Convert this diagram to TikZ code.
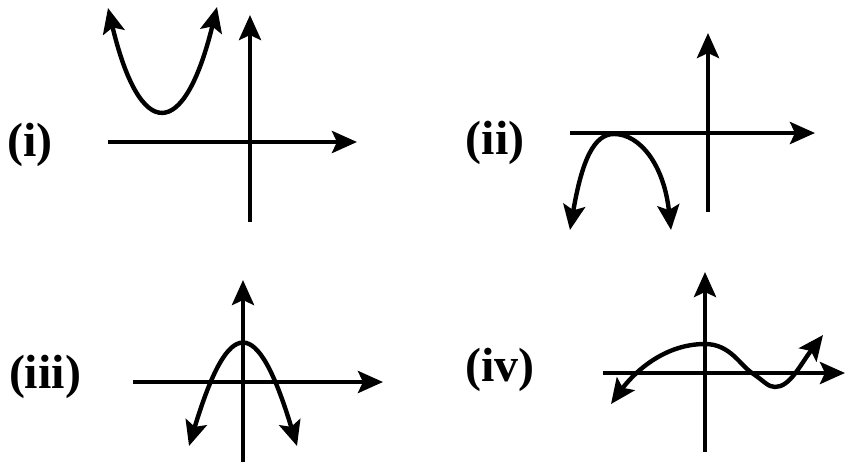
\documentclass[tikz,border=0pt]{standalone}
\usepackage{fontspec}
\setmainfont{Liberation Serif}
\usetikzlibrary{arrows.meta}

\begin{document}
\begin{tikzpicture}[x=1pt, y=-1pt, line width=4.4pt,
    >={Stealth[length=25pt, width=22pt, inset=5pt]},
    lbl/.style={font=\fontsize{48}{48}\selectfont\bfseries}]
    \useasboundingbox (0,0) rectangle (846,464);
    % (i)
    \node[lbl] (lbli) at (30,145) {(i)};
    \draw[->] (108,142) -- (357,142);
    \draw[->] (250,222) -- (250,15);
    \draw[<->] (108,8) .. controls (140,142) and (184,142) .. (217,7);
    % (ii)
    \node[lbl] (lblii) at (495,143) {(ii)};
    \draw[->] (570,133) -- (815,133);
    \draw[->] (708,212) -- (708,33);
    \draw[<->] (570,230) .. controls (582,160) and (594,134) .. (614,134)
        .. controls (640,134) and (664,165) .. (671,230);
    % (iii)
    \node[lbl] (lbliii) at (45,377) {(iii)};
    \draw[->] (133,382) -- (383,382);
    \draw[->] (243,462) -- (243,280);
    \draw[<->] (189,446) .. controls (229,314) and (257,314) .. (297,446);
    % (iv)
    \node[lbl] (lbliv) at (500,370) {(iv)};
    \draw[->] (603,373) -- (845,373);
    \draw[->] (705,452) -- (705,272);
    \draw[<->] (611,404) .. controls (630,378) and (660,344) .. (705,344)
        .. controls (730,344) and (740,365) .. (752,373)
        .. controls (764,381) and (768,387) .. (775,387)
        .. controls (790,387) and (800,365) .. (823,335);
\end{tikzpicture}
\end{document}
